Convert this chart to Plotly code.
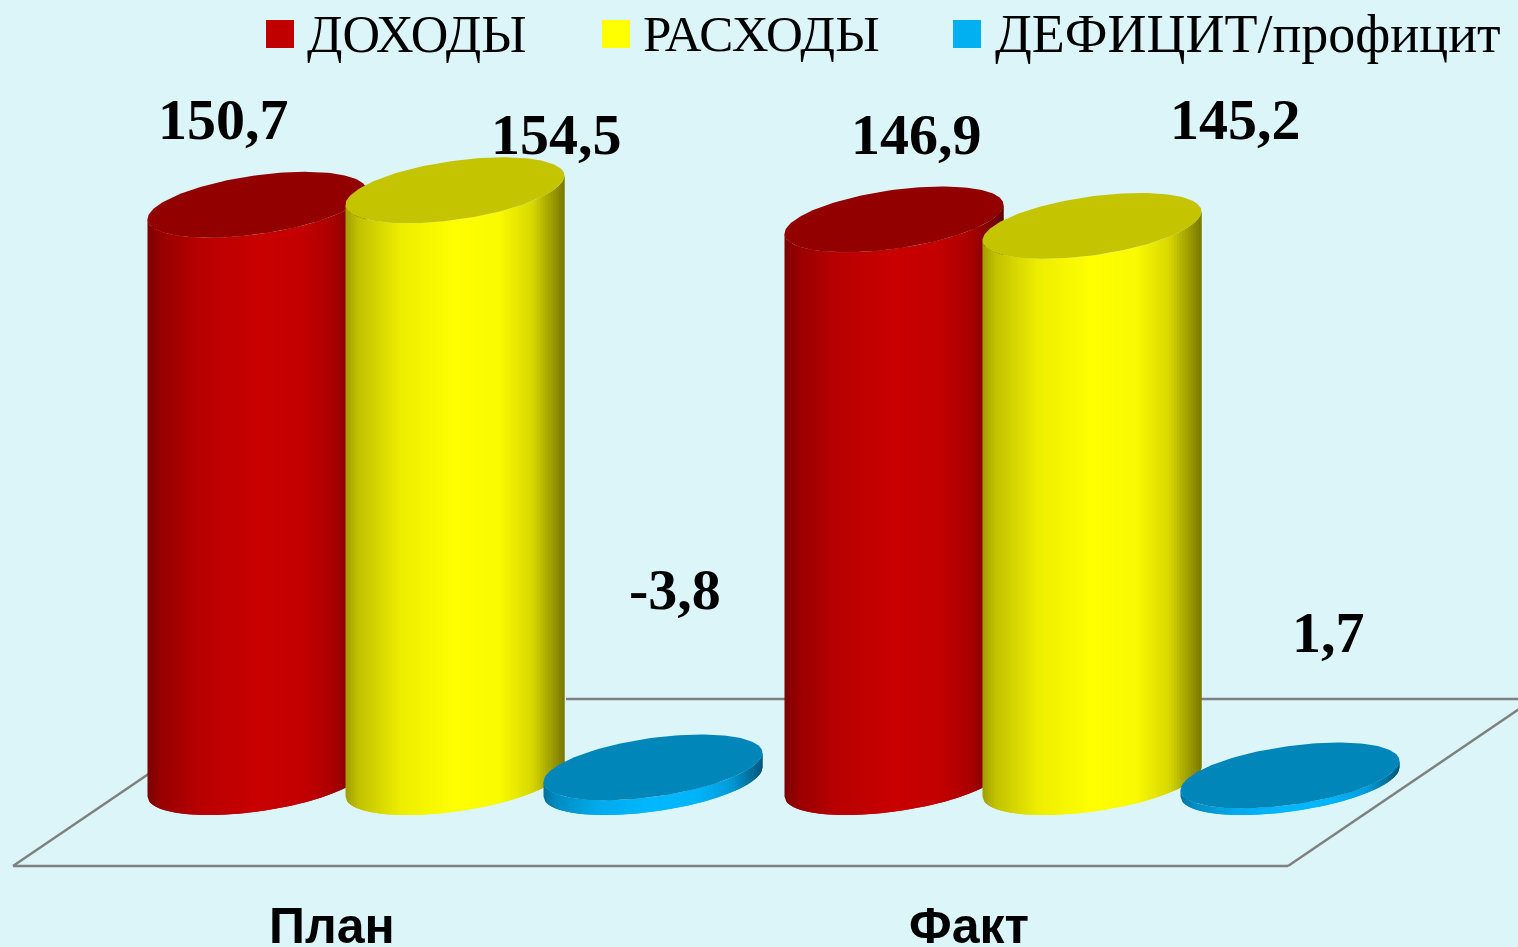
import numpy as np
import plotly.graph_objects as go

W, H = 1518, 947
categories = ["План", "Факт"]
series_names = ["ДОХОДЫ", "РАСХОДЫ", "ДЕФИЦИТ/профицит"]
income = [150.7, 146.9]
expense = [154.5, 145.2]
balance = [-3.8, 1.7]
series = [income, expense, balance]
value_labels = [["150,7", "146,9"], ["154,5", "145,2"], ["-3,8", "1,7"]]

# appearance
BG = "#DCF5F9"
side_rgb = [(200, 0, 0), (255, 255, 0), (0, 184, 255)]
top_rgb = [(146, 0, 0), (196, 196, 0), (0, 134, 184)]
swatch = ["#C00000", "#FFFF00", "#00B0F0"]
shade_f = [0, .06, .25, .5, .7, .85, 1]
shade_v = [.62, .76, .93, 1, .98, .85, .47]
legend_sizes = [52, 51, 54]

# plot geometry
PX_PER_X = 637.0
X0_PX = 455.0
PX_PER_Y = 3.83
Y0_PX = 782.0
a_px, b_px, k_px = 109.5, 29.6, 14.5
STEP = 198.0 / PX_PER_X
a = a_px / PX_PER_X
b = b_px / PX_PER_Y
k = k_px / PX_PER_Y

label_px = [[(223, 119), (916, 134)], [(556, 134), (1235, 119)], [(675, 589), (1328, 632)]]
cat_px = [(332, 926), (969, 926)]
legend_sw_px = [266, 602, 953]
legend_tx_px = [305, 641, 993]

fig = go.Figure()


def lower(u):
    return -(b * np.sqrt(np.clip(1 - u * u, 0, 1)) - k * u)


def rgb(c, s=1.0):
    return "rgb(%d,%d,%d)" % tuple(int(round(v * s)) for v in c)


def cylinder(cx, h, si):
    n = 80
    us = np.linspace(-1, 1, n + 1)
    for i in range(n):
        # each strip runs under the next one so no seams show
        uu = np.linspace(us[i], us[min(i + 2, n)], 4)
        xs = cx + a * uu
        bot = lower(uu)
        top = h + lower(uu)
        s = np.interp((i + .5) / n, shade_f, shade_v)
        c = rgb(side_rgb[si], s)
        fig.add_trace(go.Scatter(
            x=np.r_[xs, xs[::-1]], y=np.r_[bot, top[::-1]],
            mode="lines", fill="toself", fillcolor=c,
            line=dict(color=c, width=0), hoverinfo="skip", showlegend=False))
    t = np.linspace(0, 2 * np.pi, 181)
    fig.add_trace(go.Scatter(
        x=cx + a * np.cos(t), y=h + b * np.sin(t) + k * np.cos(t),
        mode="lines", fill="toself", fillcolor=rgb(top_rgb[si]),
        line=dict(color=rgb(top_rgb[si]), width=0), hoverinfo="skip", showlegend=False))


for gi in range(len(categories)):
    for si in range(len(series)):
        cylinder(gi + (si - 1) * STEP, abs(series[si][gi]), si)

shapes = []


def px(x):
    return x / W


def py(y):
    return 1 - y / H


gray = dict(color="#808080", width=2.5)
for x1, y1, x2, y2 in [(13, 866, 1288, 866), (13, 866, 150, 773), (1288, 866, 1534, 699), (566, 699, 1518, 699)]:
    shapes.append(dict(type="line", xref="paper", yref="paper", layer="below",
                       x0=px(x1), y0=py(y1), x1=px(x2), y1=py(y2), line=gray))
for sw, c in zip(legend_sw_px, swatch):
    shapes.append(dict(type="rect", xref="paper", yref="paper", layer="above",
                       x0=px(sw), x1=px(sw + 28), y0=py(20), y1=py(48),
                       fillcolor=c, line=dict(width=0)))

ann = []
for si, row in enumerate(value_labels):
    for gi, txt in enumerate(row):
        lx, ly = label_px[si][gi]
        ann.append(dict(text=txt, xref="paper", yref="paper", x=px(lx), y=py(ly), showarrow=False,
                        xanchor="center", yanchor="middle",
                        font=dict(family="Liberation Serif", size=58, color="black", weight="bold")))
for txt, (lx, ly) in zip(categories, cat_px):
    ann.append(dict(text=txt, xref="paper", yref="paper", x=px(lx), y=py(ly), showarrow=False,
                    xanchor="center", yanchor="middle",
                    font=dict(family="Liberation Sans", size=50, color="black", weight="bold")))
for txt, lx, fs in zip(series_names, legend_tx_px, legend_sizes):
    ann.append(dict(text=txt, xref="paper", yref="paper", x=px(lx), y=py(34), showarrow=False,
                    xanchor="left", yanchor="middle",
                    font=dict(family="Liberation Serif", size=fs, color="black")))

fig.update_layout(
    width=W, height=H, margin=dict(l=0, r=0, t=0, b=0),
    paper_bgcolor=BG, plot_bgcolor=BG, showlegend=False,
    xaxis=dict(range=[-X0_PX / PX_PER_X, (W - X0_PX) / PX_PER_X], visible=False, fixedrange=True),
    yaxis=dict(range=[(Y0_PX - H) / PX_PER_Y, Y0_PX / PX_PER_Y], visible=False, fixedrange=True),
    shapes=shapes, annotations=ann)
fig.write_html("out.html", config=dict(displayModeBar=False),
               post_script="document.body.style.margin='0';document.body.style.overflow='hidden';")
